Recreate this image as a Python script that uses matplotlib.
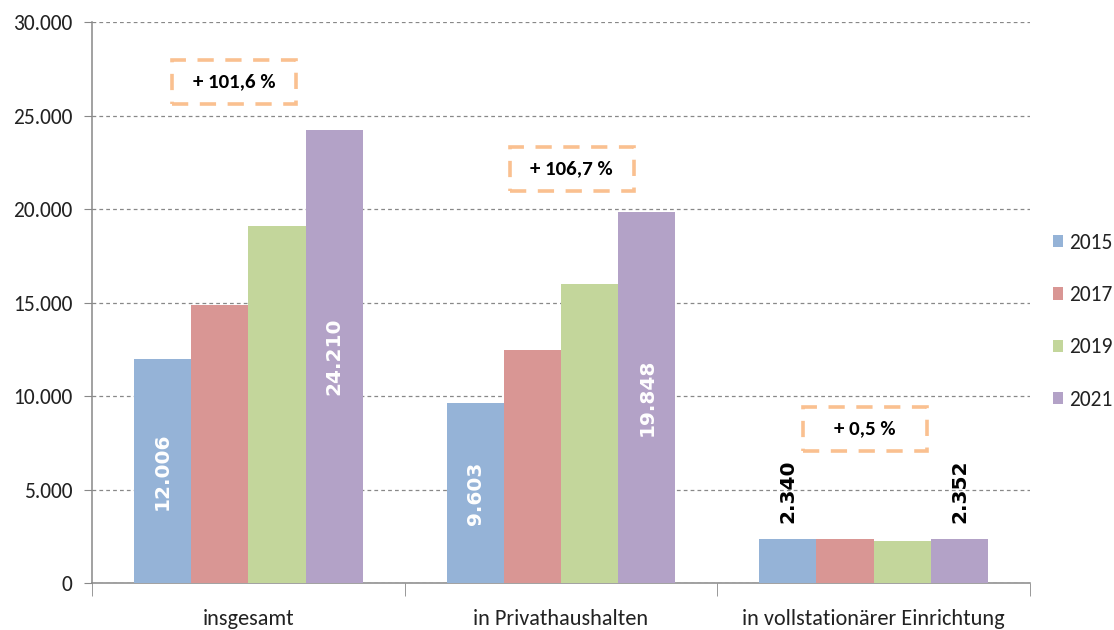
import matplotlib
matplotlib.use("Agg")
import matplotlib.pyplot as plt
from matplotlib.patches import Rectangle
import numpy as np

categories = ["insgesamt", "in Privathaushalten", "in vollstationärer Einrichtung"]
years = ["2015", "2017", "2019", "2021"]
values_2015 = [12006, 9603, 2340]
values_2017 = [14850, 12440, 2345]
values_2019 = [19100, 16000, 2270]
values_2021 = [24210, 19848, 2352]
series = [values_2015, values_2017, values_2019, values_2021]
colors = ["#95B3D7", "#D99694", "#C3D69B", "#B3A2C7"]

# value labels: (category index, series index, text, inside?)
label_specs = [(0, 0, "12.006", True), (0, 3, "24.210", True),
               (1, 0, "9.603", True), (1, 3, "19.848", True),
               (2, 0, "2.340", False), (2, 3, "2.352", False)]

# change annotations: text, x (data), y (data)
change_texts = ["+ 101,6 %", "+ 106,7 %", "+ 0,5 %"]
change_x = [-0.046, 1.034, 1.973]
change_y = [26800, 22150, 8230]

yticks = [0, 5000, 10000, 15000, 20000, 25000, 30000]
ytick_labels = ["0", "5.000", "10.000", "15.000", "20.000", "25.000", "30.000"]

narrow = ["Carlito", "Liberation Sans Narrow", "DejaVu Sans"]

fig = plt.figure(figsize=(11.14, 6.30), dpi=100)
ax = fig.add_axes([0.0826, 0.0746, 0.9246 - 0.0826, 0.965 - 0.0746])

x = np.arange(len(categories))
bw = 0.183
offsets = (np.arange(len(years)) - 1.5) * bw
for i, (vals, col, yr) in enumerate(zip(series, colors, years)):
    ax.bar(x + offsets[i], vals, width=bw, color=col, label=yr, zorder=3,
           edgecolor="none")

for ci, si, txt, inside in label_specs:
    v = series[si][ci]
    xp = x[ci] + offsets[si]
    if inside:
        ax.text(xp, v / 2, txt, rotation=90, ha="center",
                va="center", color="white", fontsize=14.5, fontweight="bold",
                family=["DejaVu Sans"], zorder=5)
    else:
        ax.text(xp, v + 850, txt, rotation=90, ha="center", va="bottom",
                color="black", fontsize=14.5, fontweight="bold",
                family=["DejaVu Sans"], zorder=5)

for txt, cx, cy in zip(change_texts, change_x, change_y):
    ax.add_patch(Rectangle((cx - 0.198, cy - 1180), 0.396, 2360, fill=False,
                           edgecolor="#FAC090", linewidth=2.6,
                           linestyle=(0, (4.5, 3.2)), zorder=4, clip_on=False))
    ax.text(cx, cy, txt, ha="center", va="center", fontsize=15,
            fontweight="bold", family=narrow, color="black", zorder=5)

ax.set_xlim(-0.5, 2.5)
ax.set_ylim(0, 30000)
ax.set_yticks(yticks)
ax.set_yticklabels(ytick_labels, family=narrow, fontsize=15.5, color="#222222")
ax.set_xticks(x)
ax.set_xticklabels(categories, family=narrow, fontsize=16, color="#222222")
ax.tick_params(axis="x", which="major", length=0, pad=19)
ax.set_xticks([-0.5, 0.5, 1.5, 2.5], minor=True)
ax.tick_params(axis="x", which="minor", length=9, color="#888888", direction="out")
ax.tick_params(axis="y", length=6, color="#888888", direction="out", pad=8)

ax.yaxis.grid(True, linestyle=(0, (3, 2.5)), color="#888888", linewidth=0.9, zorder=0)
ax.set_axisbelow(True)
for s in ["top", "right"]:
    ax.spines[s].set_visible(False)
for s in ["left", "bottom"]:
    ax.spines[s].set_color("#888888")
    ax.spines[s].set_linewidth(1.1)

leg = fig.legend(loc="center left", bbox_to_anchor=(0.945, 0.49), frameon=False,
                 prop={"family": narrow, "size": 15.5}, handlelength=0.5,
                 handleheight=0.5, handletextpad=0.25, labelspacing=1.5,
                 borderpad=0, borderaxespad=0)
for t in leg.get_texts():
    t.set_color("#222222")

fig.savefig("out.png", dpi=100)
